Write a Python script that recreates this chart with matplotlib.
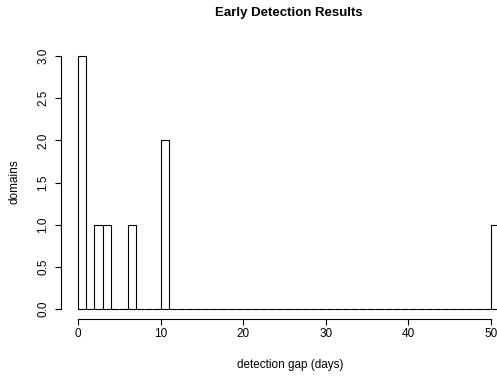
import numpy as np
import matplotlib
matplotlib.use("Agg")
import matplotlib.pyplot as plt

# detection gaps (days) for each domain
gaps = [0, 0, 0, 2, 3, 6, 10, 10, 50]
bin_edges = np.arange(0, 52, 1)
x_ticks = [0, 10, 20, 30, 40, 50]
y_ticks = [0.0, 0.5, 1.0, 1.5, 2.0, 2.5, 3.0]

plt.rcParams['font.family'] = ['Liberation Sans', 'DejaVu Sans']

W, H = 497, 378
fig = plt.figure(figsize=(W / 100, H / 100), dpi=100)
left, right = 61.1, 516.0
top, bottom = 45.9, 319.1
ax = fig.add_axes([left / W, (H - bottom) / H, (right - left) / W, (bottom - top) / H])

ax.hist(gaps, bins=bin_edges, facecolor='white', edgecolor='black', linewidth=0.8)

ax.set_xlim(-0.04 * 51, 51 * 1.04)
ax.set_ylim(-0.12, 3.12)

for s in ['top', 'right']:
    ax.spines[s].set_visible(False)
ax.spines['left'].set_bounds(0, 3)
ax.spines['bottom'].set_bounds(0, 50)
for s in ['left', 'bottom']:
    ax.spines[s].set_linewidth(0.8)

ax.set_xticks(x_ticks)
ax.set_xticklabels([str(t) for t in x_ticks])
ax.set_yticks(y_ticks)
ax.set_yticklabels([f"{t:.1f}" for t in y_ticks], rotation=90, va='center')
ax.tick_params(axis='both', length=4.5, width=0.8, labelsize=8.5)
ax.tick_params(axis='x', pad=2)
ax.tick_params(axis='y', pad=4)

fig.text(290 / W, 1 - 365 / H, "detection gap (days)", ha='center', va='center', fontsize=8.5)
fig.text(15 / W, 1 - 182 / H, "domains", ha='center', va='center', rotation=90, fontsize=8.5)
fig.text(288.5 / W, 1 - 13 / H, "Early Detection Results", ha='center', va='center',
         fontsize=9.5, fontweight='bold')

fig.savefig("out.png", dpi=100)
